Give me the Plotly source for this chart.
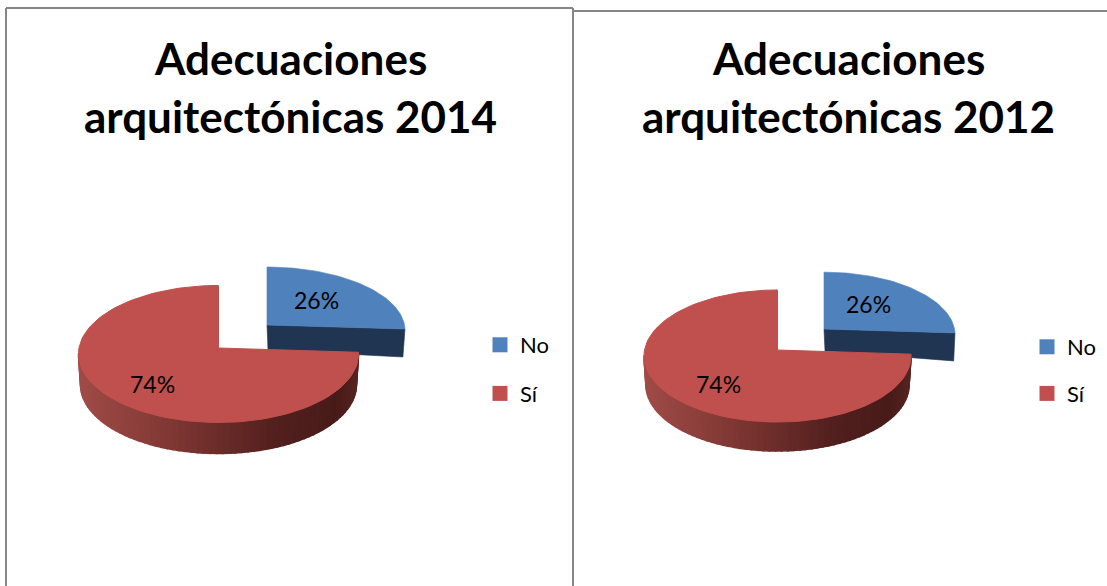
import math
import plotly.graph_objects as go

categories = ["No", "Sí"]
values_2014 = [26, 74]
values_2012 = [26, 74]
title_2014 = ["Adecuaciones", "arquitectónicas 2014"]
title_2012 = ["Adecuaciones", "arquitectónicas 2012"]

BLUE, BLUE_WALL, RED = "#4f81bd", "#1f3552", "#c0504d"
WALL_STOPS = [(0.0, (160, 75, 71)), (0.35, (125, 54, 50)), (0.7, (82, 32, 30)),
              (0.92, (72, 27, 25)), (1.0, (88, 36, 33))]
FONT = "Lato, Carlito, Calibri, sans-serif"


def wall_colour(f):
    f = max(0.0, min(1.0, f))
    for (a, ca), (b, cb) in zip(WALL_STOPS, WALL_STOPS[1:]):
        if f <= b:
            t = (f - a) / (b - a)
            return "rgb(%d,%d,%d)" % tuple(round(p + (q - p) * t) for p, q in zip(ca, cb))
    return "rgb(88,36,33)"


def rim(geom, theta):
    """Perspective projection of a point on the pie's rim; theta clockwise from top."""
    cx, cy, a, b, p = geom
    X, Y = math.sin(theta), math.cos(theta)
    d = 1 + p * Y
    return cx + a * X / d, cy - b * Y / d


def arc(geom, t0, t1, n):
    return [rim(geom, t0 + (t1 - t0) * i / n) for i in range(n + 1)]


def lower(geom, pt, depth, s):
    return geom[0] + (pt[0] - geom[0]) * s, pt[1] + depth


def poly(fig, pts, colour, width=0.6):
    fig.add_trace(go.Scatter(x=[q[0] for q in pts] + [pts[0][0]], y=[q[1] for q in pts] + [pts[0][1]],
                             mode="lines", fill="toself", fillcolor=colour,
                             line=dict(color=colour, width=width),
                             hoverinfo="skip", showlegend=False))


def draw_pie(fig, values, red_geom, blue_geom, red_depth, blue_depths, blue_s):
    total = sum(values)
    split = 2 * math.pi * values[0] / total

    # exploded "No" slice: cut wall, then top face
    end = rim(blue_geom, split)
    apex = blue_geom[:2]
    poly(fig, [apex, end,
               (blue_geom[0] + (end[0] - blue_geom[0]) * blue_s, end[1] + blue_depths[1]),
               (apex[0] + 1, apex[1] + blue_depths[0])], BLUE_WALL)
    poly(fig, [apex] + arc(blue_geom, 0, split, 60), BLUE)

    # "Sí" slice: outer wall in shaded strips (front-facing part only), then top face
    red_arc = arc(red_geom, split, 2 * math.pi, 110)
    xs = [q[0] for q in red_arc]
    x0, x1 = min(xs), max(xs)
    front = red_arc[:xs.index(x0) + 1]
    for u, v in zip(front, front[1:]):
        f = ((u[0] + v[0]) / 2 - x0) / (x1 - x0)
        poly(fig, [u, v, lower(red_geom, v, red_depth, 0.985), lower(red_geom, u, red_depth, 0.985)],
             wall_colour(f), width=1.5)
    poly(fig, [red_geom[:2]] + red_arc, RED, width=1)


def add_title(fig, lines, cx):
    for line, y in zip(lines, (58, 116)):
        fig.add_annotation(x=cx, y=y, text="<b>%s</b>" % line, showarrow=False,
                           font=dict(family=FONT, size=44, color="#000000"),
                           xanchor="center", yanchor="middle")


def add_labels(fig, values, spots):
    for v, (x, y) in zip(values, spots):
        fig.add_annotation(x=x, y=y, text="%d%%" % v, showarrow=False,
                           font=dict(family=FONT, size=23, color="#000000"),
                           xanchor="center", yanchor="middle")


fig = go.Figure()
draw_pie(fig, values_2014, (218.5, 348, 139.5, 68, 0.087), (267, 325, 137.5, 63, 0.087), 31, (25, 28), 0.985)
draw_pie(fig, values_2012, (777.5, 350, 133, 65.5, 0.091), (824, 329, 130.5, 62, 0.091), 29, (22, 28), 0.99)

add_title(fig, title_2014, 290)
add_title(fig, title_2012, 848)
add_labels(fig, values_2014, [(316, 300), (152, 384)])
add_labels(fig, values_2012, [(868, 304), (718, 384)])

for name, colour, group, legend in [(categories[0], BLUE, "a", "legend"), (categories[1], RED, "b", "legend"),
                                    (categories[0], BLUE, "c", "legend2"), (categories[1], RED, "d", "legend2")]:
    fig.add_trace(go.Scatter(x=[None], y=[None], mode="markers", name=name, legendgroup=group, legend=legend,
                             marker=dict(symbol="square", size=15, color=colour), hoverinfo="skip"))

legend_style = dict(font=dict(family=FONT, size=22, color="#000000"), bgcolor="rgba(0,0,0,0)",
                    xanchor="left", yanchor="top", itemclick=False, itemdoubleclick=False)
fig.update_layout(
    width=1107, height=586, margin=dict(l=0, r=0, t=0, b=0),
    paper_bgcolor="#ffffff", plot_bgcolor="#ffffff", autosize=False,
    xaxis=dict(range=[0, 1107], visible=False, fixedrange=True),
    yaxis=dict(range=[586, 0], visible=False, fixedrange=True),
    legend=dict(x=480 / 1107, y=1 - 324 / 586, tracegroupgap=17, **legend_style),
    legend2=dict(x=1027 / 1107, y=1 - 326 / 586, tracegroupgap=15, **legend_style),
    shapes=[
        dict(type="line", x0=6, x1=6, y0=8, y1=586, line=dict(color="#868686", width=2)),
        dict(type="line", x0=6, x1=573, y0=8, y1=8, line=dict(color="#868686", width=2)),
        dict(type="line", x0=573, x1=573, y0=8, y1=586, line=dict(color="#868686", width=2)),
        dict(type="line", x0=573, x1=1107, y0=11, y1=11, line=dict(color="#868686", width=2)),
    ],
)
fig.write_html("out.html", config={"displayModeBar": False},
               post_script="document.body.style.margin='0';document.documentElement.style.overflow='hidden';")
